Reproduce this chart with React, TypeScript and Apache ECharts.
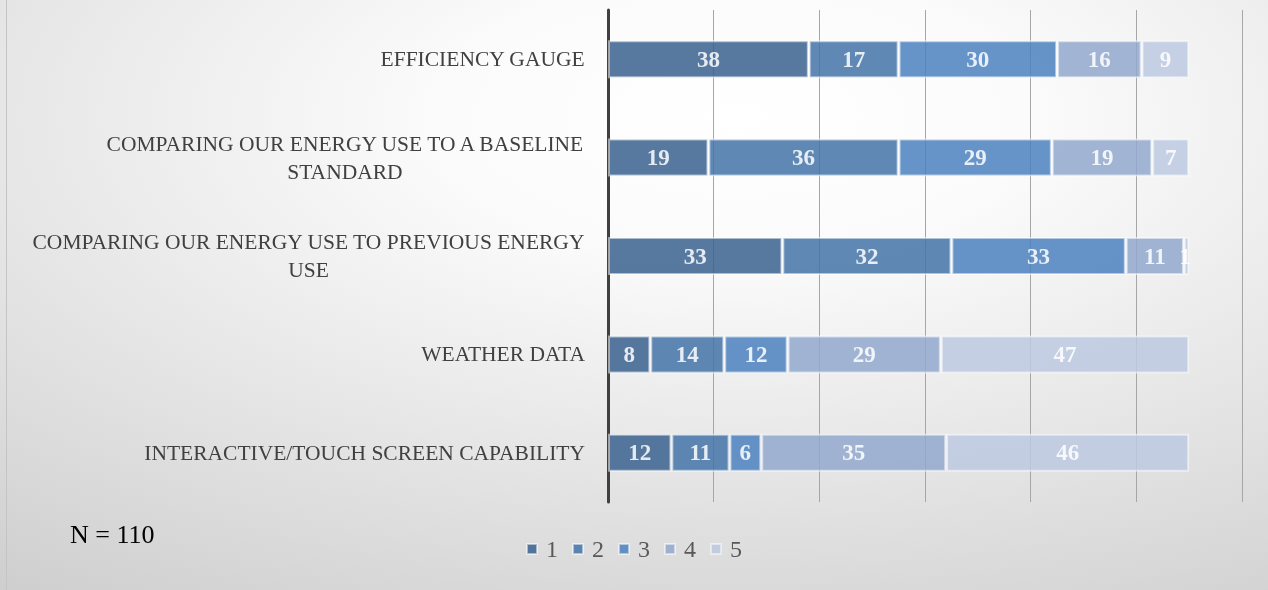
import React, { useEffect, useRef } from "react";
import * as echarts from "echarts";

const categories = [
  "EFFICIENCY GAUGE",
  "COMPARING OUR ENERGY USE TO A BASELINE\nSTANDARD",
  "COMPARING OUR ENERGY USE TO PREVIOUS ENERGY\nUSE",
  "WEATHER DATA",
  "INTERACTIVE/TOUCH SCREEN CAPABILITY",
];
const seriesNames = ["1", "2", "3", "4", "5"];
const values1 = [38, 19, 33, 8, 12];
const values2 = [17, 36, 32, 14, 11];
const values3 = [30, 29, 33, 12, 6];
const values4 = [16, 19, 11, 29, 35];
const values5 = [9, 7, 1, 47, 46];
const allValues = [values1, values2, values3, values4, values5];
const colors = ["#3a628e", "#4473a7", "#4c81be", "#93a8ce", "#bcc9e2"];

export default function App() {
  const ref = useRef<HTMLDivElement>(null);
  useEffect(() => {
    if (!ref.current) return;
    const chart = echarts.init(ref.current, undefined, { renderer: "svg" });
    chart.setOption({
      animation: false,
      backgroundColor: {
        type: "radial",
        x: 0.58,
        y: 0.2,
        r: 1.3,
        colorStops: [
          { offset: 0, color: "#ffffff" },
          { offset: 0.18, color: "#fbfbfb" },
          { offset: 1, color: "#bcbcbc" },
        ],
      },
      grid: { left: 608, right: 26, top: 10, bottom: 88 },
      xAxis: {
        type: "value",
        min: 0,
        max: 120,
        interval: 20,
        axisLabel: { show: false },
        axisLine: { show: false },
        axisTick: { show: false },
        splitLine: { show: true, lineStyle: { color: "#a6a6a6", width: 1 } },
      },
      yAxis: {
        type: "category",
        inverse: true,
        data: categories,
        axisLine: { show: true, lineStyle: { color: "#404040", width: 3 } },
        axisTick: { show: false },
        axisLabel: {
          margin: 23,
          align: "right",
          formatter: (v: string) =>
            v
              .split("\n")
              .map((l) => `{c|${l}}`)
              .join("\n"),
          rich: {
            c: {
              align: "center",
              fontFamily: "Liberation Serif",
              fontSize: 21.5,
              lineHeight: 28,
              color: "#404040",
            },
          },
        },
      },
      legend: {
        bottom: 24,
        left: "center",
        icon: "rect",
        itemWidth: 10,
        itemHeight: 10,
        itemGap: 14,
        textStyle: {
          fontFamily: "Liberation Serif",
          fontSize: 24,
          color: "#595959",
          padding: [0, 0, 0, 4],
        },
        data: seriesNames,
      },
      graphic: [
        {
          type: "text",
          left: 70,
          top: 521,
          style: {
            text: "N = 110",
            fontFamily: "Liberation Serif",
            fontSize: 26,
            fill: "#000000",
          },
        },
        {
          type: "line",
          shape: { x1: 6.5, y1: 0, x2: 6.5, y2: 590 },
          style: { stroke: "#c4c4c4", lineWidth: 1 },
        },
      ],
      series: seriesNames.map((name, i) => ({
        name,
        type: "bar",
        stack: "total",
        barWidth: 38,
        data: allValues[i].map((v) =>
          v < 3
            ? {
                value: v,
                label: { position: "right", distance: 0, offset: [-10, 0] },
              }
            : v
        ),
        itemStyle: {
          color: colors[i],
          opacity: 0.85,
          borderColor: "rgba(255,255,255,0.6)",
          borderWidth: 2,
        },
        label: {
          show: true,
          position: "inside",
          color: "#ffffff",
          fontFamily: "Liberation Serif",
          fontWeight: "bold",
          fontSize: 23,
          overflow: "none",
        },
      })),
    });
    return () => chart.dispose();
  }, []);
  return (
    <div
      ref={ref}
      style={{ position: "fixed", left: 0, top: 0, width: 1268, height: 590 }}
    />
  );
}
